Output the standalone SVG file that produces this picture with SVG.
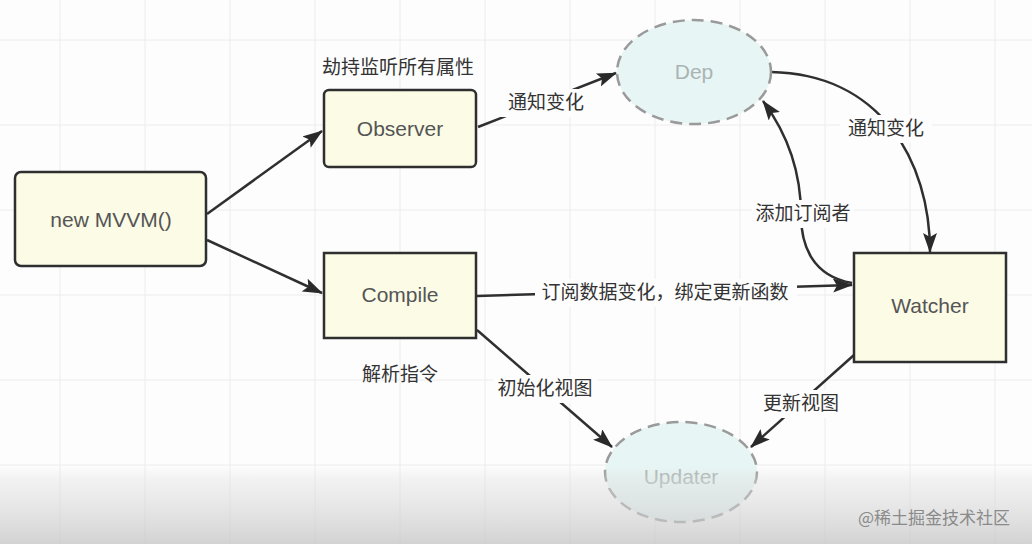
<svg xmlns="http://www.w3.org/2000/svg" width="1032" height="544" viewBox="0 0 1032 544">
<defs>
<style>
.box{fill:#fbfbe6;stroke:#2f2f2f;stroke-width:2.5}
.ell{fill:#e7f6f4;stroke:#9a9a9a;stroke-width:2.5;stroke-dasharray:12 7}
.bt{font-family:"Liberation Sans",Arial,sans-serif;font-size:21px;fill:#555;text-anchor:middle}
.et{font-family:"Liberation Sans",Arial,sans-serif;font-size:21px;fill:#aab4b2;text-anchor:middle}
.lb{font-family:"Noto Sans CJK SC","Liberation Sans",sans-serif;font-size:19px;fill:#333;text-anchor:middle}
.ln{fill:none;stroke:#2f2f2f;stroke-width:2.5}
.grid{stroke:#ececec;stroke-width:1}
</style>
<marker id="ah" viewBox="0 0 20 14" refX="19" refY="7" markerWidth="20" markerHeight="14" markerUnits="userSpaceOnUse" orient="auto">
<path d="M0,0 L20,7 L0,14 L4,7 Z" fill="#2a2a2a"/>
</marker>
<linearGradient id="fade" x1="0" y1="0" x2="0" y2="1">
<stop offset="0" stop-color="#d8d8d8" stop-opacity="0"/>
<stop offset="0.2" stop-color="#dedede" stop-opacity="0.4"/>
<stop offset="1" stop-color="#c4c4c4" stop-opacity="0.75"/>
</linearGradient>
</defs>
<rect width="1032" height="544" fill="#fdfdfd"/>
<g id="grid">
<path class="grid" d="M0,40H1032M0,125H1032M0,210H1032M0,295H1032M0,380H1032M0,465H1032M60,0V544M145,0V544M230,0V544M315,0V544M400,0V544M485,0V544M570,0V544M655,0V544M740,0V544M825,0V544M910,0V544M995,0V544"/>
</g>
<g id="connectors">
<line class="ln" x1="207" y1="214" x2="322" y2="131" marker-end="url(#ah)"/>
<line class="ln" x1="207" y1="240" x2="322" y2="293" marker-end="url(#ah)"/>
<line class="ln" x1="478" y1="127" x2="616" y2="73" marker-end="url(#ah)"/>
<path class="ln" d="M771,72 C880,74 930,160 930,252" marker-end="url(#ah)"/>
<path class="ln" d="M852,283 C812,276 801,245 801,215 C801,170 786,132 763,101" marker-end="url(#ah)"/>
<line class="ln" x1="477" y1="296" x2="852" y2="285" marker-end="url(#ah)"/>
<line class="ln" x1="477" y1="330" x2="612" y2="447" marker-end="url(#ah)"/>
<line class="ln" x1="854" y1="355" x2="751" y2="447" marker-end="url(#ah)"/>
<g id="labels">
<rect x="500" y="89" width="92" height="28" fill="#fdfdfd"/>
<text class="lb" x="546" y="109">通知变化</text>
<rect x="840" y="115" width="92" height="28" fill="#fdfdfd"/>
<text class="lb" x="886" y="135">通知变化</text>
<rect x="752" y="200" width="102" height="28" fill="#fdfdfd"/>
<text class="lb" x="803" y="220">添加订阅者</text>
<rect x="535" y="279" width="262" height="28" fill="#fdfdfd"/>
<text class="lb" x="665" y="299">订阅数据变化，绑定更新函数</text>
<rect x="493" y="375" width="104" height="28" fill="#fdfdfd"/>
<text class="lb" x="545" y="395">初始化视图</text>
<rect x="760" y="390" width="82" height="28" fill="#fdfdfd"/>
<text class="lb" x="801" y="410">更新视图</text>
</g>
</g>
<g id="mvvm"><rect class="box" x="15" y="172" width="191" height="94" rx="6"/><text class="bt" x="111" y="227">new MVVM()</text></g>
<g id="observer"><rect class="box" x="324" y="90" width="152" height="77" rx="5"/><text class="bt" x="400" y="136">Observer</text><text class="lb" x="398" y="74">劫持监听所有属性</text></g>
<g id="compile"><rect class="box" x="324" y="253" width="152" height="85"/><text class="bt" x="400" y="302">Compile</text><text class="lb" x="400" y="381">解析指令</text></g>
<g id="watcher"><rect class="box" x="854" y="253" width="152" height="109"/><text class="bt" x="930" y="313">Watcher</text></g>
<g id="dep"><ellipse class="ell" cx="694" cy="72" rx="77" ry="52"/><text class="et" x="694" y="79">Dep</text></g>
<g id="updater"><ellipse class="ell" cx="681" cy="472" rx="76" ry="50"/><text class="et" x="681" y="484">Updater</text></g>
<rect x="0" y="466" width="1032" height="78" fill="url(#fade)"/>
<text x="934" y="524" font-family="Noto Sans CJK SC,sans-serif" font-size="17" fill="#8a8a8a" text-anchor="middle">@稀土掘金技术社区</text>
</svg>
